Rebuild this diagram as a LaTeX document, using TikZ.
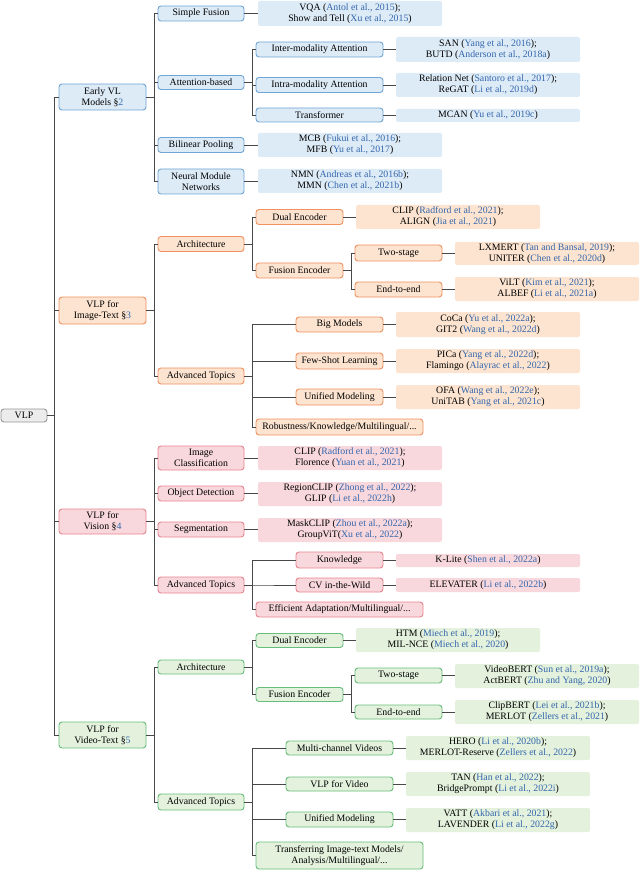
\documentclass[tikz,border=0pt]{standalone}
\usepackage{fontspec}
\setmainfont{Liberation Serif}
\usetikzlibrary{calc}
\definecolor{citeblue}{RGB}{52,102,172}
\definecolor{bluefill}{RGB}{221,235,247}
\definecolor{blueline}{RGB}{112,166,214}
\definecolor{orfill}{RGB}{252,228,208}
\definecolor{orline}{RGB}{240,145,95}
\definecolor{pkfill}{RGB}{248,216,221}
\definecolor{pkline}{RGB}{232,132,142}
\definecolor{grfill}{RGB}{227,241,221}
\definecolor{grline}{RGB}{102,190,122}
\definecolor{vlpfill}{RGB}{236,236,236}
\definecolor{vlpline}{RGB}{150,150,150}
\definecolor{connc}{RGB}{72,72,72}
\newcommand\ct[1]{\textcolor{citeblue}{#1}}
\newcommand\mkbox[7]{\node[#1, minimum width={(#4-#3)*1pt}, minimum height={#6*1pt}] (#2) at ({(#3+#4)/2},#5) {#7};}
\newcommand\tedge[3]{\draw[conn] (#1.east) -- (#1.east -| #2) |- (#3.west);}
\newcommand\ledge[2]{\draw[conn] (#1.east) -- (#1.east -| #2.west);}
\tikzset{
  base/.style={inner sep=0pt, outer sep=0pt, align=center, font=\fontsize{9.8}{11}\selectfont},
  cat/.style={base, rounded corners=3pt, line width=0.9pt},
  leaf/.style={base, rounded corners=2pt},
  blueC/.style={cat, draw=blueline, fill=bluefill},
  blueL/.style={leaf, fill=bluefill},
  orC/.style={cat, draw=orline, fill=orfill},
  orL/.style={leaf, fill=orfill},
  pkC/.style={cat, draw=pkline, fill=pkfill},
  pkL/.style={leaf, fill=pkfill},
  grC/.style={cat, draw=grline, fill=grfill},
  grL/.style={leaf, fill=grfill},
  vlpC/.style={cat, draw=vlpline, fill=vlpfill},
  conn/.style={draw=connc, line width=0.8pt},
}
\begin{document}
\begin{tikzpicture}[x=1pt,y=-1pt]
\fill[white] (0,0) rectangle (640,882);
\useasboundingbox (0,0) rectangle (640,882);
\coordinate (v0) at (54,0);
\coordinate (v1) at (154,0);
\coordinate (v2) at (252,0);
\coordinate (v3) at (351,0);

% root
\mkbox{vlpC}{vlp}{1}{47}{415.5}{13}{VLP}

% ===== Early VL =====
\mkbox{blueC}{early}{59}{146}{97}{26}{Early VL\\Models §\ct{2}}
\mkbox{blueC}{sf}{158}{244}{13.5}{15}{Simple Fusion}
\mkbox{blueC}{ab}{158}{244}{82.5}{14}{Attention-based}
\mkbox{blueC}{bp}{158}{244}{145}{15}{Bilinear Pooling}
\mkbox{blueC}{nmn}{158}{244}{181.5}{25}{Neural Module\\Networks}
\mkbox{blueC}{inter}{256}{383}{49.5}{15}{Inter-modality Attention}
\mkbox{blueC}{intra}{256}{383}{85}{15}{Intra-modality Attention}
\mkbox{blueC}{trans}{256}{383}{115}{14}{Transformer}
\mkbox{blueL}{lvqa}{258}{442}{13.5}{25}{VQA (\ct{Antol et al., 2015});\\Show and Tell (\ct{Xu et al., 2015})}
\mkbox{blueL}{lsan}{396}{580}{49.5}{25}{SAN (\ct{Yang et al., 2016});\\BUTD (\ct{Anderson et al., 2018a})}
\mkbox{blueL}{lrel}{396}{580}{85}{24}{Relation Net (\ct{Santoro et al., 2017});\\ReGAT (\ct{Li et al., 2019d})}
\mkbox{blueL}{lmcan}{396}{580}{115.5}{13}{MCAN (\ct{Yu et al., 2019c})}
\mkbox{blueL}{lmcb}{258}{442}{145}{24}{MCB (\ct{Fukui et al., 2016});\\MFB (\ct{Yu et al., 2017})}
\mkbox{blueL}{lnmn}{258}{442}{181}{24}{NMN (\ct{Andreas et al., 2016b});\\MMN (\ct{Chen et al., 2021b})}

% ===== Image-Text =====
\mkbox{orC}{img}{59}{146}{310.5}{27}{VLP for\\Image-Text §\ct{3}}
\mkbox{orC}{arch}{158}{244}{244}{15}{Architecture}
\mkbox{orC}{adv}{158}{244}{376}{16}{Advanced Topics}
\mkbox{orC}{dual}{256}{343}{217}{15}{Dual Encoder}
\mkbox{orC}{fus}{256}{343}{270.5}{15}{Fusion Encoder}
\mkbox{orC}{two}{355}{442}{253}{16}{Two-stage}
\mkbox{orC}{ete}{355}{442}{289.5}{15}{End-to-end}
\mkbox{orC}{big}{296}{383}{324.5}{15}{Big Models}
\mkbox{orC}{few}{296}{383}{361}{16}{Few-Shot Learning}
\mkbox{orC}{uni}{296}{383}{397}{16}{Unified Modeling}
\mkbox{orC}{rob}{256}{423}{427}{16}{Robustness/Knowledge/Multilingual/...}
\mkbox{orL}{lclip}{356}{540}{217}{24}{CLIP (\ct{Radford et al., 2021});\\ALIGN (\ct{Jia et al., 2021})}
\mkbox{orL}{llx}{455}{639}{253.5}{23}{LXMERT (\ct{Tan and Bansal, 2019});\\UNITER (\ct{Chen et al., 2020d})}
\mkbox{orL}{lvilt}{455}{639}{289}{24}{ViLT (\ct{Kim et al., 2021});\\ALBEF (\ct{Li et al., 2021a})}
\mkbox{orL}{lcoca}{396}{580}{324.5}{25}{CoCa (\ct{Yu et al., 2022a});\\GIT2 (\ct{Wang et al., 2022d})}
\mkbox{orL}{lpica}{396}{580}{361}{24}{PICa (\ct{Yang et al., 2022d});\\Flamingo (\ct{Alayrac et al., 2022})}
\mkbox{orL}{lofa}{396}{580}{397}{24}{OFA (\ct{Wang et al., 2022e});\\UniTAB (\ct{Yang et al., 2021c})}

% ===== Vision =====
\mkbox{pkC}{vis}{59}{146}{521.5}{25}{VLP for\\Vision §\ct{4}}
\mkbox{pkC}{ic}{158}{244}{458}{24}{Image\\Classification}
\mkbox{pkC}{od}{158}{244}{493.5}{15}{Object Detection}
\mkbox{pkC}{seg}{158}{244}{529.5}{15}{Segmentation}
\mkbox{pkC}{vadv}{158}{244}{585}{16}{Advanced Topics}
\mkbox{pkC}{know}{296}{383}{560}{16}{Knowledge}
\mkbox{pkC}{cvw}{296}{383}{585}{14}{CV in-the-Wild}
\mkbox{pkC}{eff}{256}{423}{609.5}{15}{Efficient Adaptation/Multilingual/...}
\mkbox{pkL}{lclipb}{258}{442}{458}{24}{CLIP (\ct{Radford et al., 2021});\\Florence (\ct{Yuan et al., 2021})}
\mkbox{pkL}{lreg}{258}{442}{494}{24}{RegionCLIP (\ct{Zhong et al., 2022});\\GLIP (\ct{Li et al., 2022h})}
\mkbox{pkL}{lmask}{258}{442}{530}{24}{MaskCLIP (\ct{Zhou et al., 2022a});\\GroupViT(\ct{Xu et al., 2022})}
\mkbox{pkL}{lkl}{396}{580}{560.5}{13}{K-Lite (\ct{Shen et al., 2022a})}
\mkbox{pkL}{lelev}{396}{580}{585}{14}{ELEVATER (\ct{Li et al., 2022b})}

% ===== Video-Text =====
\mkbox{grC}{vid}{59}{146}{735}{26}{VLP for\\Video-Text §\ct{5}}
\mkbox{grC}{varch}{158}{244}{667}{14}{Architecture}
\mkbox{grC}{vadvb}{158}{244}{802}{16}{Advanced Topics}
\mkbox{grC}{vdual}{256}{343}{640.5}{14}{Dual Encoder}
\mkbox{grC}{vfus}{256}{343}{694.5}{14}{Fusion Encoder}
\mkbox{grC}{vtwo}{355}{442}{675.5}{15}{Two-stage}
\mkbox{grC}{vete}{355}{442}{712}{14}{End-to-end}
\mkbox{grC}{mcv}{286}{393}{748}{14}{Multi-channel Videos}
\mkbox{grC}{vfv}{286}{393}{784}{14}{VLP for Video}
\mkbox{grC}{vuni}{286}{393}{819.5}{15}{Unified Modeling}
\mkbox{grC}{vtr}{256}{423}{855.5}{27}{Transferring Image-text Models/\\Analysis/Multilingual/...}
\mkbox{grL}{lhtm}{356}{540}{640}{24}{HTM (\ct{Miech et al., 2019});\\MIL-NCE (\ct{Miech et al., 2020})}
\mkbox{grL}{lvb}{455}{639}{676}{24}{VideoBERT (\ct{Sun et al., 2019a});\\ActBERT (\ct{Zhu and Yang, 2020})}
\mkbox{grL}{lcb}{455}{639}{712}{24}{ClipBERT (\ct{Lei et al., 2021b});\\MERLOT (\ct{Zellers et al., 2021})}
\mkbox{grL}{lhero}{406}{590}{748}{24}{HERO (\ct{Li et al., 2020b});\\MERLOT-Reserve (\ct{Zellers et al., 2022})}
\mkbox{grL}{ltan}{406}{590}{784}{24}{TAN (\ct{Han et al., 2022});\\BridgePrompt (\ct{Li et al., 2022i})}
\mkbox{grL}{lvatt}{406}{590}{820}{24}{VATT (\ct{Akbari et al., 2021});\\LAVENDER (\ct{Li et al., 2022g})}

% ===== connectors =====
\tedge{vlp}{v0}{early}
\tedge{vlp}{v0}{img}
\tedge{vlp}{v0}{vis}
\tedge{vlp}{v0}{vid}

\tedge{early}{v1}{sf}
\tedge{early}{v1}{ab}
\tedge{early}{v1}{bp}
\tedge{early}{v1}{nmn}
\tedge{ab}{v2}{inter}
\tedge{ab}{v2}{intra}
\tedge{ab}{v2}{trans}
\ledge{sf}{lvqa}
\ledge{inter}{lsan}
\ledge{intra}{lrel}
\ledge{trans}{lmcan}
\ledge{bp}{lmcb}
\ledge{nmn}{lnmn}

\tedge{img}{v1}{arch}
\tedge{img}{v1}{adv}
\tedge{arch}{v2}{dual}
\tedge{arch}{v2}{fus}
\tedge{fus}{v3}{two}
\tedge{fus}{v3}{ete}
\tedge{adv}{v2}{big}
\tedge{adv}{v2}{few}
\tedge{adv}{v2}{uni}
\tedge{adv}{v2}{rob}
\ledge{dual}{lclip}
\ledge{two}{llx}
\ledge{ete}{lvilt}
\ledge{big}{lcoca}
\ledge{few}{lpica}
\ledge{uni}{lofa}

\tedge{vis}{v1}{ic}
\tedge{vis}{v1}{od}
\tedge{vis}{v1}{seg}
\tedge{vis}{v1}{vadv}
\tedge{vadv}{v2}{know}
\tedge{vadv}{v2}{cvw}
\tedge{vadv}{v2}{eff}
\ledge{ic}{lclipb}
\ledge{od}{lreg}
\ledge{seg}{lmask}
\ledge{know}{lkl}
\ledge{cvw}{lelev}

\tedge{vid}{v1}{varch}
\tedge{vid}{v1}{vadvb}
\tedge{varch}{v2}{vdual}
\tedge{varch}{v2}{vfus}
\tedge{vfus}{v3}{vtwo}
\tedge{vfus}{v3}{vete}
\tedge{vadvb}{v2}{mcv}
\tedge{vadvb}{v2}{vfv}
\tedge{vadvb}{v2}{vuni}
\tedge{vadvb}{v2}{vtr}
\ledge{vdual}{lhtm}
\ledge{vtwo}{lvb}
\ledge{vete}{lcb}
\ledge{mcv}{lhero}
\ledge{vfv}{ltan}
\ledge{vuni}{lvatt}
\end{tikzpicture}
\end{document}
